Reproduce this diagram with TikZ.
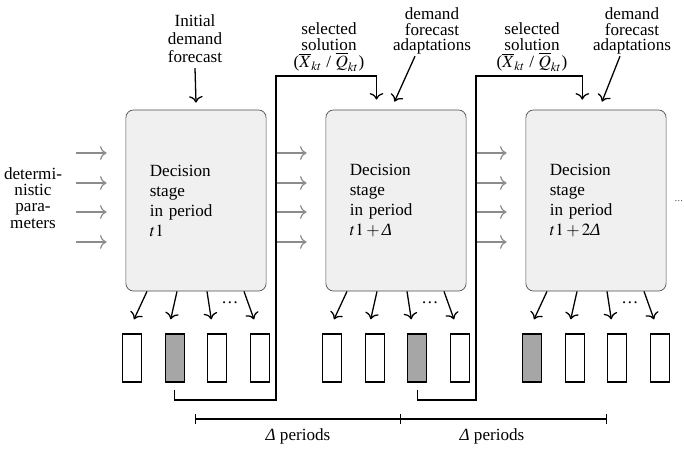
\documentclass[tikz,border=0pt]{standalone}
\usepackage{mathptmx}
\usepackage[no-math]{fontspec}
\setmainfont{Liberation Serif}
\usetikzlibrary{calc, arrows.meta}
\newcommand{\dlt}{\mbox{\itshape Δ}}

\begin{document}
\begin{tikzpicture}[x=0.5848pt, y=-0.5848pt,
    >={Computer Modern Rightarrow[width=8pt, length=3.8pt]}]
      \useasboundingbox (0,0) rectangle (684,448);
      \tikzstyle{stage}=[draw=black!70, fill=black!6, rounded corners=4.5pt,
        minimum height=105.9pt, text width=54pt, inner xsep=14pt, align=left,
        font=\fontsize{10}{11.7}\selectfont]
      \tikzstyle{slot}=[draw, line width=0.75pt, minimum width=11.1pt,
        minimum height=28.1pt, inner sep=0pt]
      \tikzstyle{flow}=[->, line width=0.75pt]
      \tikzstyle{param}=[->, black!45, line width=0.7pt]
      \tikzstyle{label}=[align=center, inner sep=1pt, font=\fontsize{10}{9}\selectfont]

      \foreach \i/\t in {1/$t1$, 2/$t1+\dlt$, 3/$t1+2\dlt$}
      {
        \path (-4+200*\i, 200.5) node[stage] (s\i) {Decision\\ stage\\ in period\\ \t};
      }

      \foreach \i/\g in {1/2, 2/3, 3/1}
      {
        \foreach \j/\dx in {1/-64, 2/-21.3, 3/21.3, 4/64}
        {
          \pgfmathtruncatemacro\shade{ifthenelse(\j==\g,35,0)}
          \path ($(s\i.center)+(\dx,157.5)$) node[slot, fill=black!\shade] (r\i\j) {};
        }
        \foreach \j/\a/\b in {1/-49/2, 2/-19/-4, 3/11/-6, 4/48/-6}
        {
          \draw[flow] ($(s\i.south)+(\a,0)$) -- ($(r\i\j.north)+(\b,-14)$);
        }
        \path ($(s\i.south)+(34,11)$) node (dots\i) {\dots};
        \foreach \dy in {-47.5, -17.5, 11.5, 41.5}
        {
          \draw[param] ($(s\i.west)+(-50,\dy)$) -- ++(31,0);
        }
      }

      % inputs from above
      \path (33,198) node[label, font=\fontsize{10}{9.5}\selectfont] (det)
        {determi-\\ nistic\\ para-\\ meters};
      \path (195,39) node[label, font=\fontsize{10}{10.5}\selectfont] (init)
        {Initial\\ demand\\ forecast};
      \draw[flow] ($(init.south)+(0,3)$) -- ($(s1.north)+(0,-7)$);

      \foreach \i/\xs/\xa/\da/\ea in {2/329/432/-17/-1.5, 3/532/632/-12/6}
      {
        \path (\xs,47) node[label, font=\fontsize{10}{9.6}\selectfont] (sel\i)
          {selected\\ solution\\ ($\overline{X}_{kt}$ / $\overline{Q}_{kt}$)};
        \path (\xa,31) node[label] (adapt\i)
          {demand\\ forecast\\ adaptations};
        \draw[flow] ($(adapt\i.south)+(\da,0)$) -- ($(s\i.north)+(\ea,-8)$);
      }

      % selected solution passed on
      \coordinate (b1) at (276,76);
      \coordinate (b2) at (476,76);
      \draw[flow] ($(r12.south)+(0,7)$) |- ($(b1)+(0,324)$) -- (b1)
        -| ($(s2.north)+(-19.5,-10)$);
      \draw[flow] ($(r23.south)+(0,7)$) |- ($(b2)+(0,324)$) -- (b2)
        -| ($(s3.north)+(-13.7,-10)$);

      % periods
      \coordinate (p1) at (195,419);
      \coordinate (p2) at (401,419);
      \coordinate (p3) at (607,419);
      \draw[|-|, line width=0.75pt] (p1) -- (p2);
      \draw[-|, line width=0.75pt] (p2) -- (p3);
      \path (298,436) node (d1) {\dlt\ periods};
      \path (492,436) node (d2) {\dlt\ periods};

      \path (679,201) node[font=\tiny] (more) {\dots};
    \end{tikzpicture}
\end{document}
